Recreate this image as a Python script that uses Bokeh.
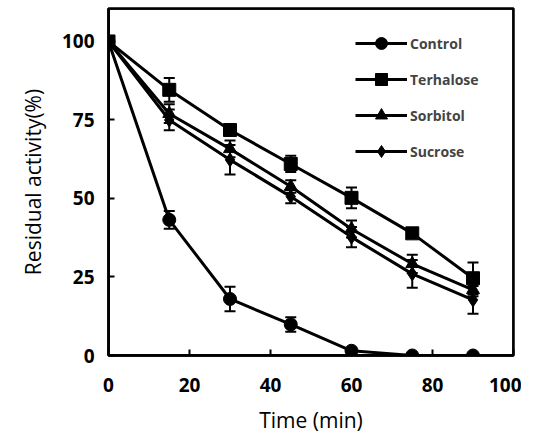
from bokeh.plotting import figure
from bokeh.models import Whisker, TeeHead, ColumnDataSource, Legend, LegendItem, FixedTicker, Range1d, BoxAnnotation
from bokeh.embed import file_html
from bokeh.resources import INLINE

time = [0, 15, 30, 45, 60, 75, 90]
series_names = ["Control", "Terhalose", "Sorbitol", "Sucrose"]
control = [100, 43.2, 18.0, 9.9, 1.5, 0, 0]
control_err = [0, 2.8, 3.9, 2.3, 0.8, 0, 0]
terhalose = [100, 84.6, 71.8, 61.0, 50.2, 38.9, 24.6]
terhalose_err = [0, 3.8, 1.0, 2.6, 3.3, 1.0, 5.0]
sorbitol = [100, 77.0, 65.8, 53.8, 40.3, 29.2, 20.9]
sorbitol_err = [0, 3.0, 2.7, 2.0, 2.7, 2.9, 2.0]
sucrose = [100, 75.0, 62.3, 50.6, 37.7, 26.0, 17.7]
sucrose_err = [0, 3.3, 4.7, 2.1, 3.2, 4.4, 4.4]
x_ticks = [0, 20, 40, 60, 80, 100]
y_ticks = [0, 25, 50, 75, 100]

FONT = "Open Sans"

p = figure(frame_width=405, frame_height=347, output_backend="svg", toolbar_location=None,
           x_range=Range1d(0, 100), y_range=Range1d(0, 110.5),
           min_border_left=108, min_border_top=8, min_border_right=8, min_border_bottom=68)
p.grid.visible = False
p.background_fill_color = "white"
p.border_fill_color = "white"
p.outline_line_color = "black"
p.outline_line_width = 2.5

frame_box = BoxAnnotation(left=0, right=100, bottom=0, top=110.5, fill_alpha=0,
                          line_color="black", line_width=2.5, line_alpha=1)
p.add_layout(frame_box)

for ax in (p.xaxis[0], p.yaxis[0]):
    ax.axis_line_width = 2.5
    ax.major_tick_line_width = 2
    ax.major_tick_in = 6
    ax.major_tick_out = 0
    ax.minor_tick_line_color = None
    ax.major_label_text_font = FONT
    ax.major_label_text_font_style = "bold"
    ax.major_label_text_font_size = "19px"
    ax.major_label_text_color = "black"
    ax.axis_label_text_font = FONT
    ax.axis_label_text_font_style = "normal"
    ax.axis_label_text_font_size = "21px"
    ax.axis_label_text_color = "black"

p.xaxis.ticker = FixedTicker(ticks=x_ticks)
p.yaxis.ticker = FixedTicker(ticks=y_ticks)
p.xaxis.major_label_standoff = 22
p.yaxis.major_label_standoff = 14
p.xaxis.axis_label = "Time (min)"
p.yaxis.axis_label = "Residual activity(%)"
p.xaxis.axis_label_standoff = 11
p.yaxis.axis_label_standoff = 12

data = [(control, control_err, "circle", 13),
        (terhalose, terhalose_err, "square", 13),
        (sorbitol, sorbitol_err, "triangle", 13),
        (sucrose, sucrose_err, "diamond", 14)]

items = []
for name, (vals, errs, marker, size) in zip(series_names, data):
    src = ColumnDataSource(dict(x=time, y=vals,
                                lo=[v - e for v, e in zip(vals, errs)],
                                hi=[v + e for v, e in zip(vals, errs)]))
    w = Whisker(source=src, base="x", lower="lo", upper="hi", line_color="black", line_width=2,
                upper_head=TeeHead(size=11, line_width=2, line_color="black"),
                lower_head=TeeHead(size=11, line_width=2, line_color="black"))
    p.add_layout(w)
    l = p.line("x", "y", source=src, line_color="black", line_width=3)
    s = p.scatter("x", "y", source=src, marker=marker, size=size, fill_color="black", line_color="black")
    items.append(LegendItem(label=name, renderers=[l, s]))

legend = Legend(items=items, location=(247, 189), padding=0, margin=0,
                glyph_width=52, glyph_height=30, label_height=30, spacing=6,
                label_standoff=3, label_text_font=FONT, label_text_font_style="bold",
                label_text_font_size="14px", border_line_color=None, background_fill_alpha=0)
p.add_layout(legend, "center")

open("out.html", "w").write(file_html(p, INLINE))
